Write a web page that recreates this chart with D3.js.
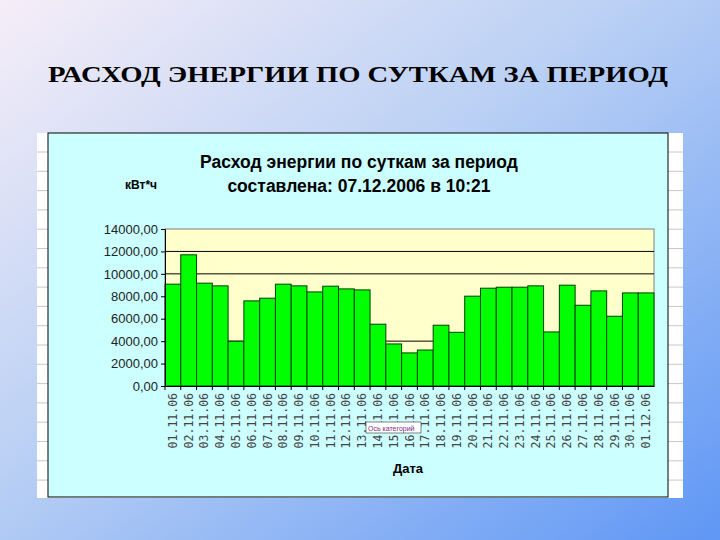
<!DOCTYPE html>
<html><head><meta charset="utf-8">
<script src="https://cdn.jsdelivr.net/npm/d3@7"></script>
<style>body{margin:0;}svg{display:block;}</style>
</head><body>
<svg id="c" width="720" height="540"></svg>
<script>
const pageTitle = "РАСХОД ЭНЕРГИИ ПО СУТКАМ ЗА ПЕРИОД";
const chartTitle1 = "Расход энергии по суткам за период";
const chartTitle2 = "составлена: 07.12.2006 в 10:21";
const unitLabel = "кВт*ч";
const xTitle = "Дата";
const dates = ["01.11.06","02.11.06","03.11.06","04.11.06","05.11.06","06.11.06","07.11.06","08.11.06","09.11.06","10.11.06","11.11.06","12.11.06","13.11.06","14.11.06","15.11.06","16.11.06","17.11.06","18.11.06","19.11.06","20.11.06","21.11.06","22.11.06","23.11.06","24.11.06","25.11.06","26.11.06","27.11.06","28.11.06","29.11.06","30.11.06","01.12.06"];
const energy = [9080,11700,9170,8930,3990,7590,7830,9080,8930,8390,8900,8660,8570,5510,3750,2950,3210,5420,4790,8010,8720,8810,8810,8930,4820,8990,7200,8480,6220,8300,8300];
const yTicks = [0,2000,4000,6000,8000,10000,12000,14000];
const gridVals = [4000,10000,12000];

const svg = d3.select("#c");
const defs = svg.append("defs");
const g = defs.append("linearGradient").attr("id","bg").attr("x1","0").attr("y1","0").attr("x2","1").attr("y2","1");
g.append("stop").attr("offset","0").attr("stop-color","#f6eef8");
g.append("stop").attr("offset","0.45").attr("stop-color","#b8cff4");
g.append("stop").attr("offset","1").attr("stop-color","#5f97f5");
svg.append("rect").attr("width",720).attr("height",540).attr("fill","url(#bg)");

svg.append("text").attr("x",48).attr("y",82).attr("textLength",620).attr("lengthAdjust","spacingAndGlyphs")
  .attr("font-family","Liberation Serif").attr("font-weight","bold").attr("font-size",24).text(pageTitle);

svg.append("rect").attr("x",37).attr("y",133).attr("width",646).attr("height",365).attr("fill","#fff");
const rows = d3.range(152,498,19.3);
svg.selectAll(".rl").data(rows).join("line").attr("x1",37).attr("x2",683)
  .attr("y1",d=>d).attr("y2",d=>d).attr("stroke","#c8c8c8");
svg.append("rect").attr("x",48).attr("y",133).attr("width",620).attr("height",364)
  .attr("fill","#ccffff").attr("stroke","#000").attr("stroke-width",1);

svg.append("text").attr("x",359).attr("y",168).attr("text-anchor","middle")
  .attr("font-family","Liberation Sans").attr("font-weight","bold").attr("font-size",17.5).text(chartTitle1);
svg.append("text").attr("x",359).attr("y",192).attr("text-anchor","middle")
  .attr("font-family","Liberation Sans").attr("font-weight","bold").attr("font-size",17.5).text(chartTitle2);
svg.append("text").attr("x",125).attr("y",189).attr("font-family","Liberation Sans").attr("font-weight","bold").attr("font-size",12).text(unitLabel);

const L=165,R=654,T=229,B=386;
const x = d3.scaleBand().domain(dates).range([L,R]).padding(0);
const y = d3.scaleLinear().domain([0,14000]).range([B,T]);
svg.append("rect").attr("x",L).attr("y",T).attr("width",R-L).attr("height",B-T).attr("fill","#ffffcc").attr("stroke","#808080");
svg.selectAll(".gl").data(gridVals).join("line").attr("x1",L).attr("x2",R)
  .attr("y1",d=>y(d)).attr("y2",d=>y(d)).attr("stroke","#000");
svg.selectAll(".bar").data(energy).join("rect")
  .attr("x",(d,i)=>x(dates[i])).attr("width",x.bandwidth()).attr("y",d=>y(d)).attr("height",d=>B-y(d))
  .attr("fill","#00ff00").attr("stroke","#004000").attr("stroke-width",1);

const ya = svg.append("g").attr("transform",`translate(${L},0)`)
  .call(d3.axisLeft(y).tickValues(yTicks).tickSize(4).tickFormat(d=>d3.format(".2f")(d).replace(".",",")));
ya.selectAll("text").attr("font-family","Liberation Sans").attr("font-size",13).attr("fill","#222");
ya.select(".domain").attr("stroke","#000");
const xa = svg.append("g").attr("transform",`translate(0,${B})`).call(d3.axisBottom(x).tickSize(4).tickSizeOuter(0));
xa.selectAll(".tick line").attr("transform",`translate(${-x.bandwidth()/2},0)`);
xa.selectAll("text").attr("transform","rotate(-90)").attr("x",-7).attr("y",0).attr("dy","0.35em")
  .attr("text-anchor","end").attr("font-family","DejaVu Sans Mono").attr("font-size",11.5).attr("fill","#444");
xa.select(".domain").attr("stroke","#000");

svg.append("text").attr("x",408).attr("y",473).attr("text-anchor","middle")
  .attr("font-family","Liberation Sans").attr("font-weight","bold").attr("font-size",13).text(xTitle);

svg.append("rect").attr("x",366).attr("y",422).attr("width",55).attr("height",11).attr("fill","#fff").attr("stroke","#333").attr("stroke-width",0.6);
svg.append("text").attr("x",368).attr("y",430.5).attr("font-family","Liberation Sans").attr("font-size",7).attr("fill","#803080").text("Ось категорий");
</script>
</body></html>
